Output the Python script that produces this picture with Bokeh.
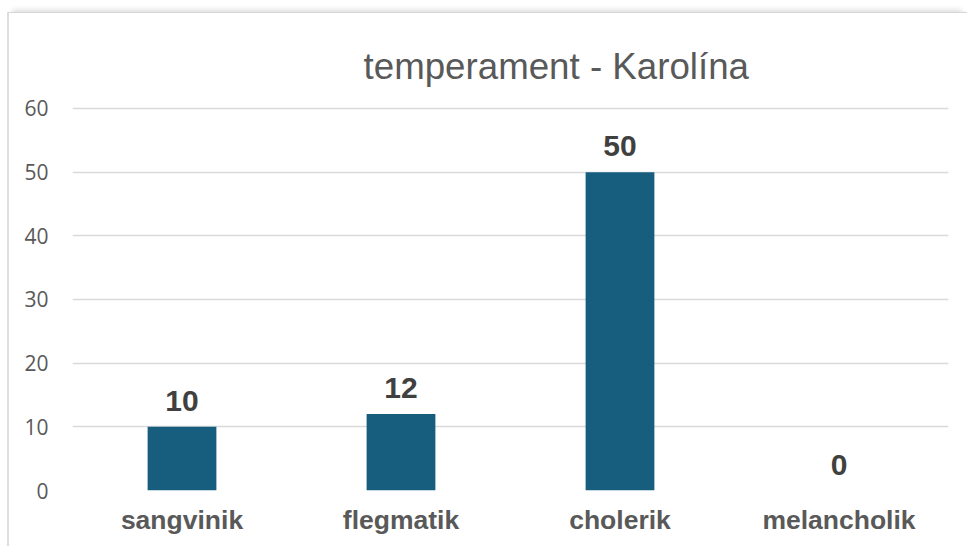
from bokeh.plotting import figure
from bokeh.models import ColumnDataSource, FixedTicker, Label
from bokeh.core.properties import value
from bokeh.embed import file_html
from bokeh.resources import INLINE

categories = ["sangvinik", "flegmatik", "cholerik", "melancholik"]
values = [10, 12, 50, 0]
y_ticks = [0, 10, 20, 30, 40, 50, 60]
title_text = "temperament - Karolína"

src = ColumnDataSource(dict(cat=categories, val=values, lab=[str(v) for v in values]))

# y range extends above the top tick so the title can sit inside the frame
p = figure(x_range=categories, y_range=(0, 72.25), width=960, height=534,
           output_backend="svg", toolbar_location=None,
           min_border_left=63, min_border_right=21, min_border_top=17, min_border_bottom=57)
p.styles = {"border-left": "2px solid #dedede", "border-top": "1px solid #d6d6d6",
            "margin-top": "12px", "margin-left": "7px",
            "box-shadow": "0 -7px 5px -5px rgba(0,0,0,0.14)"}

p.add_layout(Label(x=1.329, y=66.6, text=title_text, text_align="left",
                   text_baseline="alphabetic", text_font="Liberation Sans",
                   text_font_size="36.7px", text_color="#595959"))

p.vbar(x="cat", top="val", width=0.314, source=src, color="#175E7E", line_color=None)

p.text(x="cat", y="val", text="lab", source=src, text_align="center", text_baseline="bottom",
       y_offset=-16, text_font=value("Liberation Sans"), text_font_style="bold",
       text_font_size="30px", text_color="#404040")

p.outline_line_color = None
p.background_fill_color = "white"
p.border_fill_color = "white"
p.xgrid.grid_line_color = None
p.ygrid.grid_line_color = "#d9d9d9"
p.ygrid.grid_line_width = 1.5

p.yaxis.ticker = FixedTicker(ticks=y_ticks)
p.yaxis.axis_line_color = None
p.yaxis.major_tick_line_color = None
p.yaxis.minor_tick_line_color = None
p.yaxis.major_label_text_font = "Open Sans"
p.yaxis.major_label_text_font_size = "21px"
p.yaxis.major_label_text_color = "#595959"
p.yaxis.major_label_standoff = 18

p.xaxis.axis_line_color = None
p.xaxis.major_tick_line_color = None
p.xaxis.minor_tick_line_color = None
p.xaxis.major_label_text_font = "Liberation Sans"
p.xaxis.major_label_text_font_style = "bold"
p.xaxis.major_label_text_font_size = "26.5px"
p.xaxis.major_label_text_color = "#595959"
p.xaxis.major_label_standoff = 8

p.x_range.range_padding = 0

open("out.html", "w").write(file_html(p, INLINE))
